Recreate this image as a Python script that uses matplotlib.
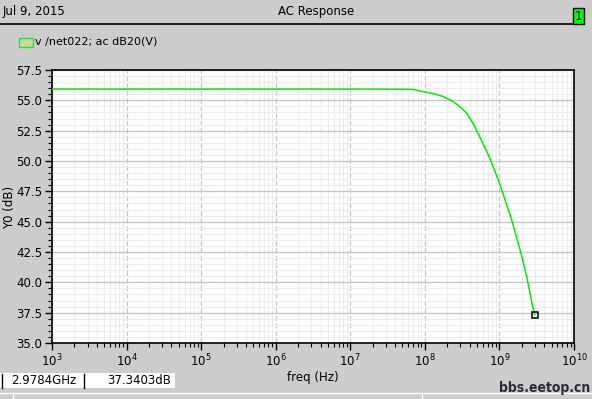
import matplotlib
matplotlib.use("Agg")
import matplotlib.pyplot as plt
from matplotlib.lines import Line2D
from matplotlib.patches import Rectangle
from matplotlib.ticker import LogLocator, MultipleLocator, NullFormatter, FixedLocator
import numpy as np

# ---- data ----
freq_hz = [1e3, 1e5, 1e7, 4.0e7, 7.0e7, 9.53e7, 1.37e8, 1.77e8, 2.29e8, 2.96e8,
           3.64e8, 4.47e8, 5.48e8, 7.46e8, 9.66e8, 1.19e9, 1.46e9, 1.74e9,
           2.05e9, 2.32e9, 2.57e9, 2.79e9, 2.9784e9]
mag_db = [55.93, 55.93, 55.93, 55.92, 55.90, 55.71, 55.52, 55.30, 54.97, 54.47,
          53.93, 53.05, 51.95, 50.21, 48.43, 46.79, 45.14, 43.49,
          41.84, 40.46, 39.10, 37.99, 37.3403]
x_ticks = [1e3, 1e4, 1e5, 1e6, 1e7, 1e8, 1e9, 1e10]
x_tick_labels = [r"$10^{3}$", r"$10^{4}$", r"$10^{5}$", r"$10^{6}$",
                 r"$10^{7}$", r"$10^{8}$", r"$10^{9}$", r"$10^{10}$"]
y_ticks = [35.0, 37.5, 40.0, 42.5, 45.0, 47.5, 50.0, 52.5, 55.0, 57.5]
title = "AC Response"
date_text = "Jul 9, 2015"
legend_text = "v /net022; ac dB20(V)"
cursor_x_text = "2.9784GHz"
cursor_y_text = "37.3403dB"

W, H = 592, 399
BG = "#cccccc"
plt.rcParams['font.family'] = ['DejaVu Sans']
fig = plt.figure(figsize=(W / 100, H / 100), dpi=100, facecolor=BG)

def fx(px):
    return px / W

def fy(py):
    return 1 - py / H

ax = fig.add_axes([fx(52), fy(343), (574 - 52) / W, (343 - 70) / H])
ax.set_facecolor("white")
ax.set_xscale("log")
ax.set_xlim(1e3, 1e10)
ax.set_ylim(35.0, 57.5)

ax.plot(freq_hz, mag_db, color="#00ee00", lw=1.1, zorder=3,
        solid_joinstyle="round")
ax.plot([freq_hz[-1]], [mag_db[-1]], marker="s", ms=4.5, mfc="none",
        mec="black", mew=1.1, zorder=4)

ax.xaxis.set_major_locator(FixedLocator(x_ticks))
ax.set_xticklabels(x_tick_labels)
ax.xaxis.set_minor_locator(LogLocator(base=10, subs=np.arange(2, 10), numticks=20))
ax.xaxis.set_minor_formatter(NullFormatter())
ax.yaxis.set_major_locator(FixedLocator(y_ticks))
ax.set_yticklabels([f"{v:.1f}" for v in y_ticks])
ax.yaxis.set_minor_locator(MultipleLocator(0.5))

ax.grid(which="minor", axis="both", color="#ececec", lw=0.8, zorder=0)
ax.grid(which="major", axis="y", color="#c4c4c4", lw=0.9, zorder=1)
ax.grid(which="major", axis="x", color="#c4c4c4", lw=0.9, ls=(0, (4, 2)), zorder=1)
ax.set_axisbelow(True)

ax.tick_params(which="major", direction="out", length=5, width=1, labelsize=8.5,
               colors="black", pad=2)
ax.tick_params(which="minor", direction="out", length=3, width=0.8, colors="black")
for s in ax.spines.values():
    s.set_color("black")
    s.set_linewidth(1.2)

ax.set_xlabel("freq (Hz)", fontsize=8.5, labelpad=1)
fig.text(fx(10), fy(207), "Y0 (dB)", fontsize=8.5, rotation=90,
         ha="center", va="center")

# ---- header ----
fig.text(fx(3), fy(12), date_text, fontsize=8.5, va="center", ha="left")
fig.text(fx(316), fy(12), title, fontsize=8.5, va="center", ha="center")
fig.add_artist(Line2D([fx(0), fx(573)], [fy(24), fy(24)], color="black", lw=1.2))
fig.add_artist(Rectangle((fx(573), fy(24)), fx(11), 16 / H, facecolor="#00ff00",
                         edgecolor="black", lw=1))
fig.text(fx(578.5), fy(16), "1", fontsize=8.5, ha="center", va="center")

# ---- legend ----
fig.add_artist(Rectangle((fx(19), fy(47)), fx(14), 9 / H, facecolor="none",
                         edgecolor="#00ff00", lw=1))
fig.add_artist(Line2D([fx(21), fx(31)], [fy(42.5), fy(42.5)], color="#e8e800", lw=1))
fig.text(fx(35), fy(42), legend_text, fontsize=8, va="center", ha="left")

# ---- cursor readout boxes ----
fig.add_artist(Rectangle((fx(0), fy(388)), fx(84), 15 / H, facecolor="white",
                         edgecolor="none"))
fig.add_artist(Rectangle((fx(85), fy(388)), fx(90), 15 / H, facecolor="white",
                         edgecolor="none"))
fig.add_artist(Line2D([fx(1.5), fx(1.5)], [fy(374), fy(388)], color="black", lw=1))
fig.add_artist(Line2D([fx(84), fx(84)], [fy(374), fy(388)], color="black", lw=1))
fig.text(fx(11), fy(381), cursor_x_text, fontsize=8.5, va="center", ha="left")
fig.text(fx(171), fy(381), cursor_y_text, fontsize=8.5, va="center", ha="right")

# ---- bottom strip ----
fig.add_artist(Line2D([fx(0), fx(592)], [fy(393), fy(393)], color="white", lw=1))
fig.add_artist(Line2D([fx(13), fx(13)], [fy(393), fy(399)], color="white", lw=1))
fig.add_artist(Line2D([fx(422), fx(422)], [fy(393), fy(399)], color="white", lw=1))

# ---- watermark ----
fig.text(fx(590), fy(388), "bbs.eetop.cn", fontsize=10, fontweight="bold",
         color="#2b2b3b", ha="right", va="center", fontstretch="condensed")

fig.savefig("out.png", dpi=100, facecolor=BG)
